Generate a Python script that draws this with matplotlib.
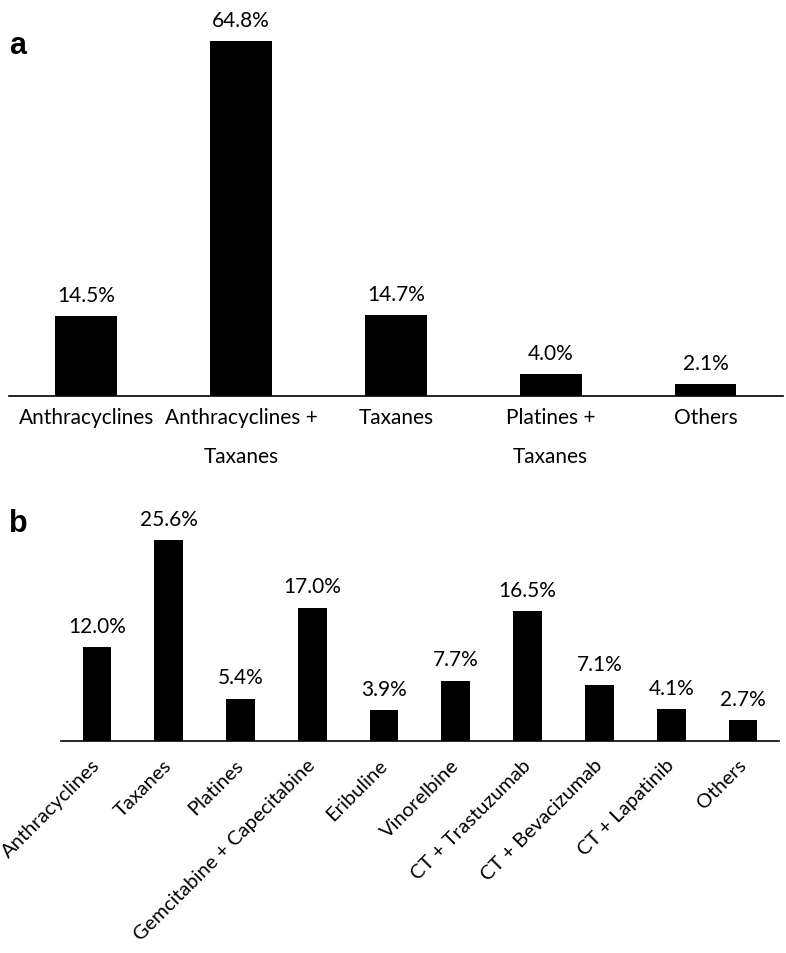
import numpy as np
import matplotlib.pyplot as plt
from matplotlib.transforms import ScaledTranslation

plt.rcParams['font.family'] = ['Lato', 'DejaVu Sans']

cats_a = ['Anthracyclines', 'Anthracyclines +\nTaxanes', 'Taxanes', 'Platines +\nTaxanes', 'Others']
vals_a = [14.5, 64.8, 14.7, 4.0, 2.1]

cats_b = ['Anthracyclines', 'Taxanes', 'Platines', 'Gemcitabine + Capecitabine', 'Eribuline',
          'Vinorelbine', 'CT + Trastuzumab', 'CT + Bevacizumab', 'CT + Lapatinib', 'Others']
vals_b = [12.0, 25.6, 5.4, 17.0, 3.9, 7.7, 16.5, 7.1, 4.1, 2.7]

fig = plt.figure(figsize=(7.86, 9.54), dpi=100)
ax1 = fig.add_axes([0.0115, 0.584, 0.9845, 0.402])
ax2 = fig.add_axes([0.0776, 0.2222, 0.9134, 0.2469])


def style(ax):
    for s in ['top', 'right', 'left']:
        ax.spines[s].set_visible(False)
    ax.spines['bottom'].set_linewidth(1.2)
    ax.set_yticks([])
    ax.tick_params(axis='x', length=0)


x = np.arange(len(cats_a))
ax1.bar(x, vals_a, width=0.4, color='black')
ax1.set_xlim(-0.5, len(cats_a) - 0.5)
ax1.set_ylim(0, 70)
ax1.set_xticks(x)
ax1.set_xticklabels(cats_a, fontsize=15, linespacing=2.2)
ax1.tick_params(axis='x', pad=8)
style(ax1)
for xi, v in zip(x, vals_a):
    ax1.annotate(f'{v:.1f}%', (xi, v), xytext=(0, 11), textcoords='offset points',
                 ha='center', va='baseline', fontsize=15)

x = np.arange(len(cats_b))
ax2.bar(x, vals_b, width=0.4, color='black')
ax2.set_xlim(-0.5, len(cats_b) - 0.5)
ax2.set_ylim(0, 30)
ax2.set_xticks(x)
ax2.set_xticklabels(cats_b, fontsize=14.5, rotation=45, ha='right', va='center',
                    rotation_mode='anchor')
ax2.tick_params(axis='x', pad=15)
shift = ScaledTranslation(4 / 72, 0, fig.dpi_scale_trans)
for lab in ax2.get_xticklabels():
    lab.set_transform(lab.get_transform() + shift)
style(ax2)
for xi, v in zip(x, vals_b):
    ax2.annotate(f'{v:.1f}%', (xi, v), xytext=(0, 11), textcoords='offset points',
                 ha='center', va='baseline', fontsize=15)

fig.text(0.012, 0.943, 'a', fontsize=22, fontweight='bold', family='Liberation Sans')
fig.text(0.012, 0.442, 'b', fontsize=22, fontweight='bold', family='Liberation Sans')

fig.savefig('out.png', dpi=100)
